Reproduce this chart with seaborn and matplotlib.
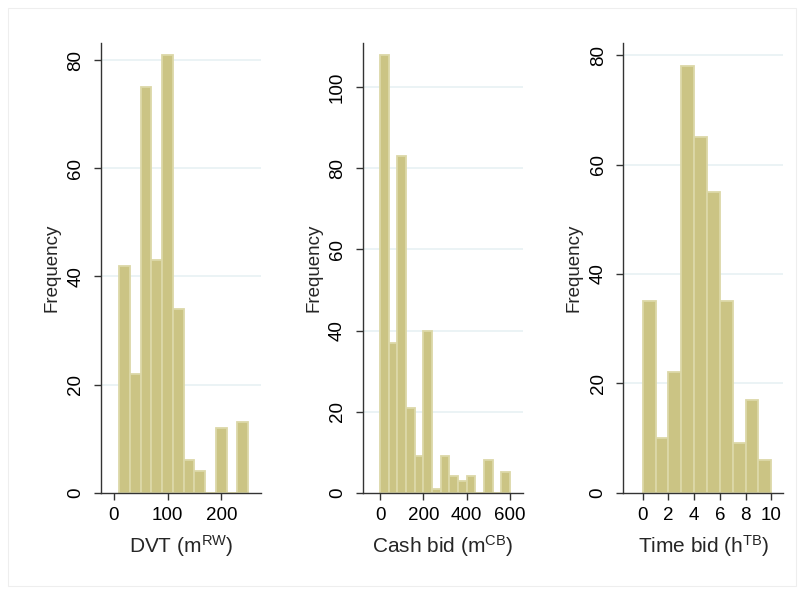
import numpy as np
import pandas as pd
import matplotlib
matplotlib.use("Agg")
import matplotlib.pyplot as plt
from matplotlib.patches import Rectangle
import seaborn as sns

# Histogram counts per bin (frequency) for each variable
dvt_bin_start, dvt_bin_width = 10, 20
dvt_counts = [42, 22, 75, 43, 81, 34, 6, 4, 0, 12, 0, 13]

cash_bin_start, cash_bin_width = 0, 40
cash_counts = [108, 37, 83, 21, 9, 40, 1, 9, 4, 3, 4, 0, 8, 0, 5]

time_bin_start, time_bin_width = 0, 1
time_counts = [35, 10, 22, 78, 65, 55, 35, 9, 17, 6]

x_labels = [r"DVT (m$^{\mathrm{RW}}$)", r"Cash bid (m$^{\mathrm{CB}}$)", r"Time bid (h$^{\mathrm{TB}}$)"]
x_ticks = [[0, 100, 200], [0, 200, 400, 600], [0, 2, 4, 6, 8, 10]]
y_ticks = [[0, 20, 40, 60, 80], [0, 20, 40, 60, 80, 100], [0, 20, 40, 60, 80]]

sns.set_style("white")
plt.rcParams["font.family"] = ["Liberation Sans", "DejaVu Sans"]
plt.rcParams["mathtext.fontset"] = "custom"
plt.rcParams["mathtext.rm"] = "Liberation Sans"
plt.rcParams["mathtext.it"] = "Liberation Sans:italic"

BAR_FILL = "#CBC484"
BAR_EDGE = "#DCD8A8"
GRID = "#E8F1F3"
AXIS = "#333333"

fig = plt.figure(figsize=(8.04, 5.94), dpi=100)
fig.patch.set_facecolor("white")
fig.patches.append(Rectangle((8 / 804, 8 / 594), 788 / 804, 578 / 594,
                             transform=fig.transFigure, fill=False,
                             edgecolor="#EEEEEE", linewidth=0.8))

panels = [
    (dvt_bin_start, dvt_bin_width, dvt_counts, (-24, 274), (0, 83.2)),
    (cash_bin_start, cash_bin_width, cash_counts, (-80, 658), (0, 111)),
    (time_bin_start, time_bin_width, time_counts, (-1.51, 10.94), (0, 82.3)),
]
lefts = [101, 362.7, 623.3]

for i, (start, width, counts, xlim, ylim) in enumerate(panels):
    ax = fig.add_axes([lefts[i] / 804, (594 - 492.7) / 594, 160 / 804, 450 / 594])
    edges = [float(start + width * k) for k in range(len(counts) + 1)]
    centers = [e + width / 2 for e in edges[:-1]]
    df = pd.DataFrame({"value": centers, "count": counts})
    sns.histplot(data=df, x="value", weights="count", bins=edges, ax=ax,
                 color=BAR_FILL, alpha=1,
                 edgecolor=BAR_EDGE, linewidth=1.3, zorder=2)
    ax.set_xlim(*xlim)
    ax.set_ylim(*ylim)
    ax.set_xticks(x_ticks[i])
    ax.set_yticks(y_ticks[i])
    for t in y_ticks[i][1:]:
        ax.axhline(t, color=GRID, linewidth=1.2, zorder=0)
    for side in ["top", "right"]:
        ax.spines[side].set_visible(False)
    for side in ["left", "bottom"]:
        ax.spines[side].set_color(AXIS)
        ax.spines[side].set_linewidth(1.0)
    ax.tick_params(axis="both", which="major", direction="out", length=5,
                   width=1.0, color=AXIS, labelsize=13.5, labelcolor="black",
                   bottom=True, left=True)
    ax.tick_params(axis="x", pad=5)
    ax.tick_params(axis="y", pad=7)
    for lab in ax.get_yticklabels():
        lab.set_rotation(90)
        lab.set_va("center")
    ax.set_ylabel("Frequency", fontsize=13.5, labelpad=5)
    ax.set_xlabel(x_labels[i], fontsize=15, labelpad=7)
    ax.set_facecolor("white")

fig.savefig("out.png", dpi=100, facecolor="white")
